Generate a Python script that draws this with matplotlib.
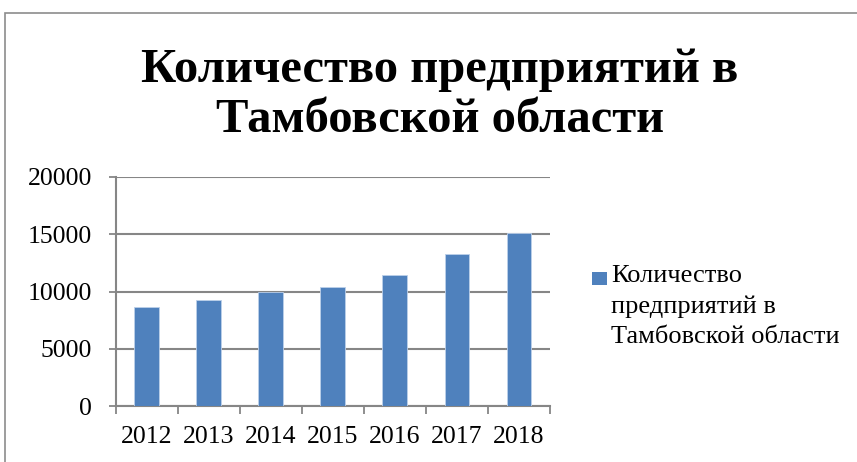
import matplotlib
matplotlib.use("Agg")
import matplotlib.pyplot as plt
from matplotlib.patches import Rectangle

years = ["2012", "2013", "2014", "2015", "2016", "2017", "2018"]
counts = [8630, 9220, 9970, 10350, 11450, 13230, 15060]
y_ticks = [0, 5000, 10000, 15000, 20000]
title = "Количество предприятий в\nТамбовской области"
series_label = "Количество\nпредприятий в\nТамбовской области"

bar_color = "#4F81BD"
axis_color = "#868686"
font = ["Liberation Serif", "DejaVu Serif"]

W, H = 857, 462
fig = plt.figure(figsize=(W / 100, H / 100), dpi=100)

# outer chart frame
fig.patches.append(Rectangle((5 / W, -0.05), 1.2, (H - 13) / H + 0.05,
                             transform=fig.transFigure, fill=False,
                             edgecolor="#8c8c8c", linewidth=1.2))

ax = fig.add_axes([115.7 / W, 1 - 406.3 / H, (550 - 115.7) / W, (406.3 - 176.7) / H])

x = range(len(years))
ax.bar(x, counts, width=0.4, color=bar_color, edgecolor="#bcd0ea", linewidth=0.6,
       zorder=3)

ax.set_xlim(-0.5, len(years) - 0.5)
ax.set_ylim(0, 20000)
ax.set_yticks(y_ticks)
ax.set_yticklabels([str(v) for v in y_ticks], fontsize=18.5, family=font)
ax.set_xticks(list(x))
ax.set_xticklabels(years, fontsize=18.5, family=font)
ax.tick_params(axis="x", length=0, pad=14)
ax.set_xticks([i - 0.5 for i in range(len(years) + 1)], minor=True)
ax.tick_params(axis="x", which="minor", length=6, width=1.3, color=axis_color)
ax.tick_params(axis="y", length=5, width=1.3, color=axis_color, pad=12)

ax.grid(axis="y", color=axis_color, linewidth=1.5, zorder=0)
for s in ["top", "right"]:
    ax.spines[s].set_visible(False)
for s in ["left", "bottom"]:
    ax.spines[s].set_color(axis_color)
    ax.spines[s].set_linewidth(1.5)

fig.text(440 / W, 1 - 95 / H, title, ha="center", va="center", fontsize=35,
         fontweight="bold", family=font, linespacing=1.2)

# legend: swatch aligned with the first line of the series name
fig.patches.append(Rectangle((592 / W, 1 - 285 / H), 15 / W, 13 / H,
                             transform=fig.transFigure, facecolor=bar_color,
                             edgecolor="none"))
fig.text(611 / W, 1 - 265 / H, series_label, ha="left", va="top", fontsize=19,
         family=font, linespacing=1.47)

fig.savefig("out.png", dpi=100)
